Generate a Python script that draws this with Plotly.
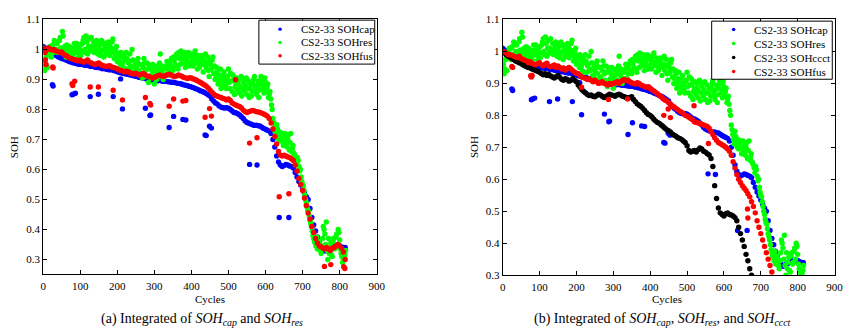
import plotly.graph_objects as go

# ---------------- data ----------------
# SOH estimated from capacity (every 5 cycles, starting at cycle 0)
soh_cap = [
    1.01, 1.005, 1.0, 0.995, 0.99, 0.987, 0.984, 0.98, 0.976, 0.973,
    0.97, 0.968, 0.966, 0.963, 0.96, 0.958, 0.956, 0.955, 0.953, 0.951,
    0.95, 0.951, 0.948, 0.947, 0.949, 0.945, 0.943, 0.944, 0.941, 0.94,
    0.94, 0.938, 0.936, 0.937, 0.934, 0.933, 0.932, 0.933, 0.93, 0.928,
    0.926, 0.924, 0.922, 0.921, 0.919, 0.918, 0.917, 0.915, 0.914, 0.912,
    0.911, 0.909, 0.907, 0.906, 0.905, 0.903, 0.902, 0.9, 0.899, 0.898,
    0.897, 0.897, 0.896, 0.897, 0.895, 0.894, 0.894, 0.893, 0.892, 0.891,
    0.891, 0.89, 0.888, 0.887, 0.886, 0.884, 0.882, 0.881, 0.879, 0.877,
    0.875, 0.873, 0.87, 0.868, 0.865, 0.862, 0.86, 0.857, 0.853, 0.849,
    0.845, 0.835, 0.828, 0.822, 0.818, 0.812, 0.808, 0.806, 0.805, 0.806,
    0.804, 0.8, 0.795, 0.79, 0.789, 0.786, 0.782, 0.776, 0.77, 0.762,
    0.757, 0.754, 0.752, 0.749, 0.747, 0.748, 0.746, 0.745, 0.741, 0.737,
    0.734, 0.731, 0.728, 0.72, 0.7, 0.675, 0.645, 0.625, 0.615, 0.61,
    0.613, 0.617, 0.615, 0.612, 0.61, 0.605, 0.59, 0.575, 0.56, 0.548,
    0.535, 0.522, 0.51, 0.5, 0.47, 0.44, 0.415, 0.395, 0.375, 0.36,
    0.345, 0.335, 0.328, 0.33, 0.335, 0.338, 0.34, 0.345, 0.342, 0.345,
    0.346, 0.342, 0.34, 0.34,
]
cap_extra_cycles = [25, 27, 78, 81, 87, 127, 149, 189, 209, 214, 276, 288, 290,
                    340, 352, 377, 385, 437, 440, 449, 454, 557, 577, 637, 663]
cap_extra_soh = [0.883, 0.878, 0.849, 0.851, 0.854, 0.843, 0.851, 0.843, 0.902,
                 0.802, 0.804, 0.78, 0.782, 0.74, 0.777, 0.767, 0.765, 0.715,
                 0.713, 0.744, 0.738, 0.617, 0.615, 0.44, 0.44]

# SOH estimated from internal resistance: cycles 0, 4, 8, ...
soh_res = [
    0.95, 0.93, 0.975, 0.94, 1.0, 0.985, 1.01, 0.99, 1.025, 1.0,
    0.99, 1.03, 1.005, 1.06, 1.0, 0.985, 1.015, 0.995, 0.975, 1.005,
    0.985, 1.02, 0.99, 1.0, 0.975, 1.015, 0.995, 1.03, 1.0, 1.045,
    0.985, 1.035, 1.01, 0.995, 1.025, 1.0, 1.03, 0.985, 1.015, 0.99,
    1.02, 0.975, 1.01, 0.995, 1.025, 0.98, 1.005, 1.035, 0.97, 0.995,
    0.96, 0.985, 0.95, 0.975, 0.94, 0.965, 0.99, 0.935, 0.96, 0.945,
    1.0, 0.925, 0.955, 0.935, 0.97, 0.915, 0.95, 0.905, 0.97, 0.93,
    0.955, 0.89, 0.94, 0.915, 0.95, 0.885, 0.925, 0.945, 0.91, 0.985,
    0.925, 0.9, 0.94, 0.915, 0.95, 0.93, 0.96, 0.94, 0.975, 0.95,
    0.985, 0.935, 0.97, 0.995, 0.955, 0.98, 0.94, 0.965, 0.99, 0.955,
    0.975, 0.945, 0.985, 0.96, 0.935, 0.97, 0.95, 0.98, 0.925, 0.96,
    0.94, 0.975, 0.91, 0.95, 0.965, 0.92, 0.9, 0.94, 0.885, 0.915,
    0.87, 0.9, 0.925, 0.88, 0.905, 0.935, 0.87, 0.895, 0.915, 0.85,
    0.885, 0.865, 0.9, 0.875, 0.845, 0.89, 0.86, 0.905, 0.87, 0.84,
    0.885, 0.86, 0.9, 0.875, 0.85, 0.895, 0.865, 0.91, 0.88, 0.855,
    0.89, 0.875, 0.84, 0.86, 0.815, 0.77, 0.74, 0.71, 0.735, 0.7,
    0.695, 0.715, 0.68, 0.72, 0.69, 0.7, 0.665, 0.72, 0.67, 0.655,
    0.645, 0.62, 0.63, 0.595, 0.575, 0.55, 0.53, 0.5, 0.475, 0.46,
    0.43, 0.41, 0.38, 0.36, 0.345, 0.335, 0.36, 0.33, 0.345, 0.41,
    0.385, 0.425, 0.3, 0.32, 0.355, 0.31, 0.37, 0.34, 0.385, 0.4,
    0.365, 0.32, 0.29, 0.305, 0.33,
]
# SOH estimated from internal resistance: cycles 2, 6, 10, ...
soh_res_mid = [
    0.96, 0.945, 0.985, 0.995, 1.01, 0.975, 1.015, 1.03, 0.995, 1.02,
    1.0, 1.04, 0.99, 1.045, 1.01, 0.975, 1.0, 1.01, 0.99, 1.0,
    0.97, 1.005, 1.02, 0.99, 1.01, 0.98, 1.02, 1.04, 0.99, 1.025,
    1.01, 0.995, 1.04, 1.005, 0.99, 1.015, 1.025, 1.0, 0.98, 1.03,
    1.0, 1.02, 0.985, 1.005, 1.015, 0.99, 1.025, 1.0, 0.985, 1.01,
    0.975, 0.96, 0.99, 0.955, 0.98, 0.935, 0.97, 0.955, 0.985, 0.94,
    0.965, 0.925, 0.945, 0.96, 0.93, 0.95, 0.92, 0.94, 0.955, 0.91,
    0.935, 0.95, 0.905, 0.93, 0.915, 0.94, 0.9, 0.93, 0.955, 0.935,
    0.945, 0.915, 0.935, 0.96, 0.915, 0.945, 0.97, 0.93, 0.965, 0.945,
    0.975, 0.99, 0.95, 0.98, 0.965, 0.99, 0.955, 0.975, 0.945, 0.985,
    0.96, 0.97, 0.995, 0.955, 0.98, 0.94, 0.965, 0.975, 0.95, 0.985,
    0.955, 0.93, 0.96, 0.935, 0.975, 0.945, 0.915, 0.93, 0.9, 0.935,
    0.885, 0.915, 0.895, 0.87, 0.91, 0.89, 0.92, 0.86, 0.9, 0.875,
    0.905, 0.885, 0.855, 0.91, 0.87, 0.9, 0.88, 0.85, 0.895, 0.87,
    0.845, 0.885, 0.91, 0.86, 0.88, 0.84, 0.885, 0.9, 0.87, 0.905,
    0.86, 0.885, 0.85, 0.835, 0.8, 0.755, 0.725, 0.75, 0.715, 0.725,
    0.7, 0.72, 0.695, 0.705, 0.675, 0.715, 0.69, 0.66, 0.68, 0.65,
    0.635, 0.64, 0.61, 0.6, 0.56, 0.545, 0.515, 0.49, 0.465, 0.445,
    0.42, 0.395, 0.37, 0.355, 0.375, 0.34, 0.35, 0.32, 0.37, 0.4,
    0.35, 0.33, 0.37, 0.34, 0.315, 0.36, 0.335, 0.375, 0.35, 0.39,
    0.335, 0.31, 0.3, 0.315,
]

# Fusion of capacity and resistance estimates (every 5 cycles)
soh_fus_a = [
    1.005, 0.99, 1.0, 1.005, 1.0, 0.998, 1.0, 0.995, 0.993, 0.99,
    0.992, 0.985, 0.98, 0.978, 0.972, 0.97, 0.968, 0.966, 0.964, 0.962,
    0.965, 0.96, 0.958, 0.962, 0.965, 0.958, 0.955, 0.952, 0.95, 0.953,
    0.955, 0.95, 0.947, 0.945, 0.943, 0.945, 0.946, 0.942, 0.94, 0.938,
    0.935, 0.932, 0.93, 0.928, 0.925, 0.928, 0.926, 0.922, 0.92, 0.918,
    0.921, 0.918, 0.915, 0.918, 0.92, 0.916, 0.912, 0.91, 0.908, 0.905,
    0.907, 0.91, 0.913, 0.915, 0.912, 0.91, 0.913, 0.916, 0.918, 0.915,
    0.912, 0.91, 0.912, 0.915, 0.913, 0.91, 0.907, 0.905, 0.903, 0.906,
    0.905, 0.902, 0.9, 0.897, 0.893, 0.89, 0.886, 0.882, 0.878, 0.872,
    0.865, 0.858, 0.852, 0.847, 0.844, 0.842, 0.84, 0.837, 0.835, 0.832,
    0.835, 0.83, 0.822, 0.818, 0.815, 0.812, 0.81, 0.805, 0.798, 0.793,
    0.79, 0.793, 0.795, 0.797, 0.795, 0.793, 0.792, 0.79, 0.788, 0.785,
    0.782, 0.778, 0.77, 0.755, 0.735, 0.71, 0.685, 0.66, 0.648, 0.645,
    0.648, 0.645, 0.642, 0.64, 0.635, 0.63, 0.615, 0.595, 0.57, 0.55,
    0.53, 0.505, 0.48, 0.455, 0.435, 0.41, 0.39, 0.37, 0.355, 0.345,
    0.342, 0.338, 0.335, 0.34, 0.335, 0.33, 0.338, 0.34, 0.345, 0.35,
    0.345, 0.338, 0.325, 0.3,
]
fus_a_extra_cycles = [6, 8, 26, 27, 78, 80, 85, 127, 149, 189, 214, 276, 288, 290,
                      340, 352, 377, 385, 437, 449, 454, 519, 557, 577, 637, 663,
                      759, 776, 811, 814]
fus_a_extra_soh = [0.965, 0.95, 0.942, 0.938, 0.886, 0.88, 0.894, 0.875, 0.875,
                   0.864, 0.832, 0.84, 0.82, 0.815, 0.811, 0.835, 0.828, 0.83,
                   0.774, 0.803, 0.778, 0.899, 0.688, 0.706, 0.509, 0.519,
                   0.277, 0.283, 0.276, 0.27]

# SOH estimated from constant-current charge time (every 5 cycles)
soh_ccct = [
    1.0, 0.995, 0.99, 0.985, 0.982, 0.978, 0.975, 0.97, 0.968, 0.965,
    0.962, 0.958, 0.955, 0.952, 0.95, 0.948, 0.945, 0.943, 0.94, 0.938,
    0.935, 0.931, 0.927, 0.93, 0.925, 0.928, 0.923, 0.92, 0.917, 0.921,
    0.925, 0.919, 0.913, 0.91, 0.915, 0.912, 0.907, 0.91, 0.915, 0.91,
    0.905, 0.895, 0.888, 0.88, 0.875, 0.87, 0.865, 0.862, 0.864, 0.86,
    0.858, 0.862, 0.866, 0.864, 0.86, 0.856, 0.858, 0.862, 0.866, 0.864,
    0.862, 0.86, 0.864, 0.866, 0.864, 0.86, 0.858, 0.856, 0.854, 0.856,
    0.858, 0.85, 0.843, 0.836, 0.832, 0.828, 0.822, 0.815, 0.808, 0.803,
    0.8, 0.795, 0.788, 0.782, 0.778, 0.775, 0.77, 0.765, 0.76, 0.755,
    0.752, 0.748, 0.742, 0.738, 0.735, 0.73, 0.728, 0.725, 0.72, 0.715,
    0.705, 0.69, 0.685, 0.688, 0.69, 0.685, 0.692, 0.698, 0.695, 0.688,
    0.685, 0.68, 0.676, 0.665, 0.64, 0.58, 0.54, 0.51, 0.495, 0.49,
    0.485, 0.492, 0.495, 0.49, 0.488, 0.485, 0.48, 0.47, 0.45, 0.43,
    0.41, 0.39, 0.365, 0.345, 0.32, 0.3,
]

# Fusion of capacity, resistance and CCCT estimates (every 5 cycles)
soh_fus_b = [
    1.0, 0.998, 0.995, 0.99, 0.99, 0.988, 0.985, 0.983, 0.98, 0.985,
    0.978, 0.975, 0.972, 0.97, 0.965, 0.968, 0.962, 0.96, 0.958, 0.962,
    0.965, 0.958, 0.955, 0.96, 0.963, 0.955, 0.952, 0.955, 0.958, 0.95,
    0.955, 0.95, 0.945, 0.948, 0.942, 0.947, 0.95, 0.945, 0.94, 0.935,
    0.932, 0.93, 0.925, 0.92, 0.918, 0.915, 0.912, 0.915, 0.91, 0.905,
    0.91, 0.905, 0.9, 0.902, 0.905, 0.9, 0.898, 0.895, 0.9, 0.897,
    0.9, 0.902, 0.905, 0.9, 0.905, 0.91, 0.912, 0.908, 0.91, 0.905,
    0.902, 0.9, 0.898, 0.902, 0.9, 0.895, 0.893, 0.89, 0.888, 0.89,
    0.885, 0.88, 0.876, 0.872, 0.868, 0.862, 0.858, 0.852, 0.848, 0.845,
    0.84, 0.835, 0.83, 0.826, 0.822, 0.818, 0.813, 0.81, 0.806, 0.8,
    0.798, 0.794, 0.79, 0.786, 0.78, 0.778, 0.776, 0.775, 0.772, 0.77,
    0.768, 0.765, 0.76, 0.75, 0.74, 0.73, 0.722, 0.715, 0.712, 0.708,
    0.705, 0.7, 0.695, 0.688, 0.675, 0.655, 0.635, 0.615, 0.6, 0.59,
    0.58, 0.572, 0.565, 0.555, 0.545, 0.53, 0.515, 0.495, 0.47, 0.45,
    0.43, 0.41, 0.39, 0.37, 0.35, 0.33, 0.31,
]
fus_b_extra_cycles = [25, 27, 76, 78, 80, 214, 287, 339, 437, 449, 455, 519, 558, 664, 665]
fus_b_extra_soh = [0.953, 0.95, 0.924, 0.92, 0.925, 0.888, 0.85, 0.851, 0.8, 0.82,
                   0.793, 0.83, 0.712, 0.507, 0.479]

x_ticks = [0, 100, 200, 300, 400, 500, 600, 700, 800, 900]
y_ticks = [0.3, 0.4, 0.5, 0.6, 0.7, 0.8, 0.9, 1.0, 1.1]
y_tick_text = ["0.3", "0.4", "0.5", "0.6", "0.7", "0.8", "0.9", "1", "1.1"]

names = {
    "cap": "CS2-33 SOHcap",
    "res": "CS2-33 SOHres",
    "ccct": "CS2-33 SOHccct",
    "fus": "CS2-33 SOHfus",
}
colors = {"cap": "#0000ff", "res": "#00ff00", "ccct": "#000000", "fus": "#ff0000"}

captions = [
    "(a) Integrated of <i>SOH<sub>cap</sub></i> and <i>SOH<sub>res</sub></i>",
    "(b) Integrated of <i>SOH<sub>cap</sub></i>, <i>SOH<sub>res</sub></i>, and <i>SOH<sub>ccct</sub></i>",
]

# ---------------- figure ----------------
W, H = 861, 330
SERIF = "Liberation Serif, Times New Roman, Times, serif"
MS = 5.4


def cycles(values, step, start=0):
    return [start + step * i for i in range(len(values))]


def px(x):
    return x / W


def py(y):
    return 1 - y / H


fig = go.Figure()


def add_series(key, xs, ys, xaxis, yaxis):
    fig.add_trace(go.Scatter(
        x=xs, y=ys, mode="markers", name=names[key], showlegend=False,
        marker=dict(color=colors[key], size=MS, line=dict(width=0)),
        xaxis=xaxis, yaxis=yaxis,
    ))


cap_x = cycles(soh_cap, 5) + cap_extra_cycles
cap_y = soh_cap + cap_extra_soh
res_x = cycles(soh_res, 4) + cycles(soh_res_mid, 4, 2)
res_y = soh_res + soh_res_mid

# panel (a)
add_series("cap", cap_x, cap_y, "x", "y")
add_series("res", res_x, res_y, "x", "y")
add_series("fus", cycles(soh_fus_a, 5) + fus_a_extra_cycles,
           soh_fus_a + fus_a_extra_soh, "x", "y")

# panel (b)
add_series("cap", cap_x, cap_y, "x2", "y2")
add_series("res", res_x, res_y, "x2", "y2")
add_series("ccct", cycles(soh_ccct, 5), soh_ccct, "x2", "y2")
add_series("fus", cycles(soh_fus_b, 5) + fus_b_extra_cycles,
           soh_fus_b + fus_b_extra_soh, "x2", "y2")

axis_style = dict(
    showline=True, linecolor="black", linewidth=1, mirror="ticks",
    ticks="inside", ticklen=4, tickcolor="black", tickwidth=1,
    showgrid=False, zeroline=False,
    tickfont=dict(family=SERIF, size=11, color="black"),
)
x_style = dict(range=[0, 900], tickvals=x_ticks,
               ticktext=[str(v) for v in x_ticks], ticklabelstandoff=2,
               **axis_style)
y_style = dict(tickvals=y_ticks, ticktext=y_tick_text, **axis_style)

fig.update_layout(
    width=W, height=H, autosize=False,
    margin=dict(l=0, r=0, t=0, b=0),
    paper_bgcolor="white", plot_bgcolor="white",
    showlegend=False,
    font=dict(family=SERIF, size=11, color="black"),
    xaxis=dict(domain=[px(40.7), px(379)], anchor="y", **x_style),
    yaxis=dict(domain=[py(278), py(14)], range=[0.252, 1.1], anchor="x", **y_style),
    xaxis2=dict(domain=[px(506.7), px(843.3)], anchor="y2", **x_style),
    yaxis2=dict(domain=[py(279.3), py(14)], range=[0.3, 1.1], anchor="x2", **y_style),
)

annotations = []
shapes = []

# axis titles and captions
for cx, sx, cap_x_px, text in [(209.8, 12, 202, captions[0]),
                               (673.3, 478.3, 668, captions[1])]:
    annotations.append(dict(x=px(cx), y=py(304), xref="paper", yref="paper",
                            text="Cycles", showarrow=False, xanchor="center",
                            yanchor="middle",
                            font=dict(family=SERIF, size=11, color="black")))
    annotations.append(dict(x=px(sx), y=py(146.7), xref="paper", yref="paper",
                            text="SOH", showarrow=False, textangle=-90,
                            xanchor="center", yanchor="middle",
                            font=dict(family=SERIF, size=11, color="black")))
    annotations.append(dict(x=px(cap_x_px), y=py(325), xref="paper", yref="paper",
                            text=text, showarrow=False, xanchor="center",
                            yanchor="middle",
                            font=dict(family=SERIF, size=14, color="black")))

# boxed legends
legends = [
    dict(box=(259.5, 14.7, 377, 60.3), mx=281, tx=300,
         rows=[24, 37.8, 51.6], keys=["cap", "res", "fus"]),
    dict(box=(718.7, 15.7, 841, 76), mx=741, tx=759.3,
         rows=[24.5, 39, 53.5, 68], keys=["cap", "res", "ccct", "fus"]),
]
for lg in legends:
    x0, y0, x1, y1 = lg["box"]
    shapes.append(dict(type="rect", xref="paper", yref="paper",
                       x0=px(x0), x1=px(x1), y0=py(y1), y1=py(y0),
                       line=dict(color="black", width=1), fillcolor="white",
                       layer="above"))
    for yy, key in zip(lg["rows"], lg["keys"]):
        r = 1.8
        shapes.append(dict(type="circle", xref="paper", yref="paper",
                           x0=px(lg["mx"] - r), x1=px(lg["mx"] + r),
                           y0=py(yy + r), y1=py(yy - r),
                           fillcolor=colors[key], line=dict(width=0),
                           layer="above"))
        annotations.append(dict(x=px(lg["tx"]), y=py(yy), xref="paper",
                                yref="paper", text=names[key], showarrow=False,
                                xanchor="left", yanchor="middle",
                                font=dict(family=SERIF, size=11, color="black")))

fig.update_layout(annotations=annotations, shapes=shapes)
fig.write_html("out.html")
